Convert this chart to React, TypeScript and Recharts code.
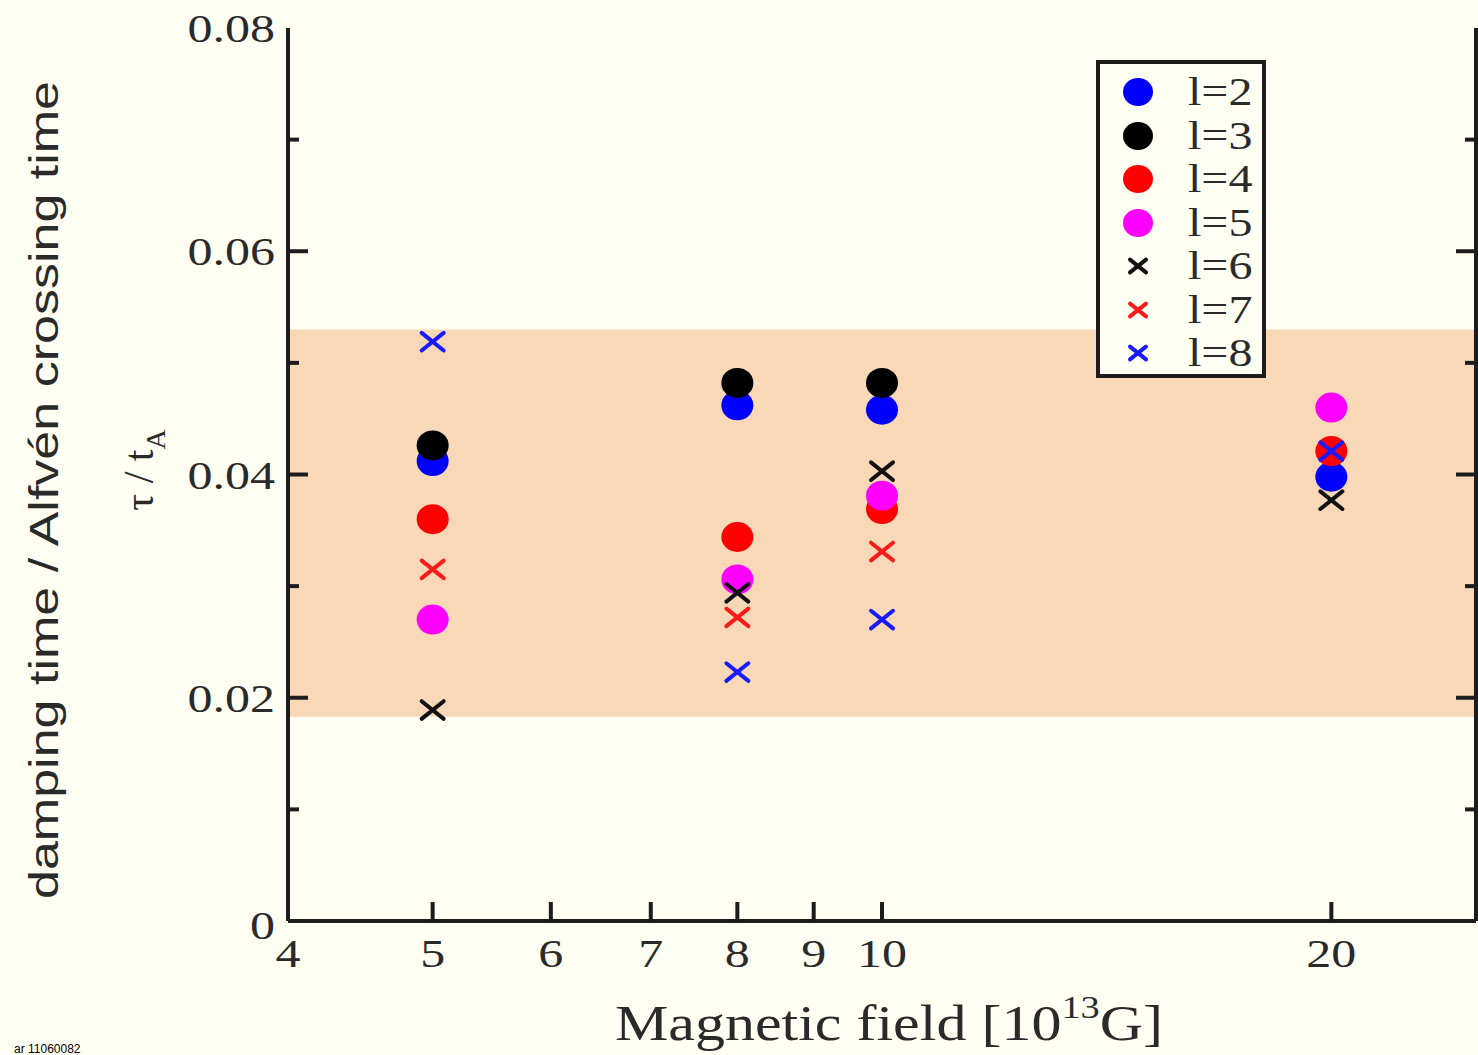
import React from 'react'
import { ComposedChart, Scatter, XAxis, YAxis, ReferenceArea, Legend, Label } from 'recharts'

// magnetic field [10^13 G]
const FIELDS = [5, 8, 10, 20]

// tau / t_A per multipole l (null = no point)
const L2 = [0.0412, 0.0462, 0.0458, 0.0398]
const L3 = [0.0426, 0.0482, 0.0482, null]
const L4 = [0.036, 0.0344, 0.0369, 0.0421]
const L5 = [0.027, 0.0306, 0.0381, 0.046]
const L6 = [0.0189, 0.0294, 0.0403, 0.0377]
const L7 = [0.0315, 0.0272, 0.0331, null]
const L8 = [0.0519, 0.0223, 0.027, 0.0421]

const X_TICKS = [4, 5, 6, 7, 8, 9, 10, 20]
const X_TOP_TICKS = [5, 6, 7, 8, 9, 10, 20]
const Y_TICKS = [0, 0.01, 0.02, 0.03, 0.04, 0.05, 0.06, 0.07, 0.08]
const BAND = [0.0183, 0.053]

const AXIS = '#1c1c1c'
const TEXT = '#2a2a2a'
const BG = '#fffff3'
const SERIF = '"Liberation Serif", "DejaVu Serif", serif'
const SANS = '"Liberation Sans", Arial, sans-serif'

const SERIES = [
  { name: 'l=2', values: L2, color: '#0000ff', kind: 'circle' },
  { name: 'l=3', values: L3, color: '#000000', kind: 'circle' },
  { name: 'l=4', values: L4, color: '#ff0000', kind: 'circle' },
  { name: 'l=5', values: L5, color: '#ff00ff', kind: 'circle' },
  { name: 'l=6', values: L6, color: '#111111', kind: 'cross' },
  { name: 'l=7', values: L7, color: '#ff1a1a', kind: 'cross' },
  { name: 'l=8', values: L8, color: '#1a1aff', kind: 'cross' },
]

const toPoints = (vals: (number | null)[]) =>
  FIELDS.map((x, i) => ({ x, y: vals[i] })).filter((p) => p.y !== null)

const isMajor = (v: number) => Math.round(v * 100) % 2 === 0

function LeftTick({ x, y, payload }: any) {
  const v = payload.value
  const major = isMajor(v)
  const label = v === 0 ? '0' : v.toFixed(2)
  const dy = v === 0 ? 18 : 14
  return (
    <g>
      {v !== 0 && v !== 0.08 && (
        <line x1={x} x2={x + (major ? 20 : 11)} y1={y} y2={y} stroke={AXIS} strokeWidth={4} />
      )}
      {major && (
        <text
          transform={`translate(${x - 13},${y + dy}) scale(1.25,1)`}
          textAnchor="end"
          fontFamily={SERIF}
          fontSize={40}
          fill={TEXT}
        >
          {label}
        </text>
      )}
    </g>
  )
}

function RightTick({ x, y, payload }: any) {
  const v = payload.value
  if (v === 0 || v === 0.08) return null
  return <line x1={x} x2={x - (isMajor(v) ? 20 : 11)} y1={y} y2={y} stroke={AXIS} strokeWidth={4} />
}

function BottomTick({ x, y, payload }: any) {
  const v = payload.value
  return (
    <g>
      {v !== 4 && <line x1={x} x2={x} y1={y} y2={y - 19} stroke={AXIS} strokeWidth={4} />}
      <text
        transform={`translate(${x},${y + 46}) scale(1.25,1)`}
        textAnchor="middle"
        fontFamily={SERIF}
        fontSize={40}
        fill={TEXT}
      >
        {v}
      </text>
    </g>
  )
}

function TopTick({ x, y }: any) {
  return <line x1={x} x2={x} y1={y} y2={y + 17} stroke={AXIS} strokeWidth={4} />
}

function Marker({ cx, cy, color, kind, r = 15, s = 11 }: any) {
  if (cx == null || cy == null) return null
  if (kind === 'circle') return <ellipse cx={cx} cy={cy} rx={r + 1} ry={r} fill={color} />
  return (
    <g stroke={color} strokeWidth={4} strokeLinecap="round">
      <line x1={cx - s} y1={cy - s * 0.8} x2={cx + s} y2={cy + s * 0.8} />
      <line x1={cx - s} y1={cy + s * 0.8} x2={cx + s} y2={cy - s * 0.8} />
    </g>
  )
}

function LegendBox() {
  return (
    <div
      style={{
        width: 162,
        height: 310,
        border: `4px solid ${AXIS}`,
        background: BG,
        boxSizing: 'content-box',
        position: 'relative',
      }}
    >
      {SERIES.map((s, i) => (
        <div key={s.name} style={{ position: 'absolute', left: 0, top: 6 + i * 43.5, height: 44, width: 162 }}>
          <svg width={80} height={44} style={{ position: 'absolute', left: 0, top: 0 }}>
            <Marker cx={38} cy={22} color={s.color} kind={s.kind} r={14} s={8} />
          </svg>
          <div
            style={{
              position: 'absolute',
              left: 88,
              top: 0,
              fontFamily: SERIF,
              fontSize: 40,
              lineHeight: '44px',
              color: TEXT,
              transform: 'scaleX(1.2)',
              transformOrigin: 'left center',
            }}
          >
            {s.name}
          </div>
        </div>
      ))}
    </div>
  )
}

function YTitles() {
  return (
    <g>
      <text
        transform="translate(58,490) rotate(-90)"
        textAnchor="middle"
        fontFamily={SANS}
        fontSize={41}
        fill={TEXT}
        textLength={818}
        lengthAdjust="spacingAndGlyphs"
      >
        damping time / Alfvén crossing time
      </text>
      <text transform="translate(153,470) rotate(-90)" textAnchor="middle" fontFamily={SERIF} fontSize={42} fill={TEXT}>
        τ / t
        <tspan fontSize={28} dy={12}>A</tspan>
      </text>
    </g>
  )
}

function XTitle() {
  return (
    <g>
      <text
        transform="translate(889,1040) scale(1.2,1)"
        textAnchor="middle"
        fontFamily={SERIF}
        fontSize={50}
        fill={TEXT}
      >
        Magnetic field [10
        <tspan fontSize={32} dy={-22}>13</tspan>
        <tspan dy={22}>G]</tspan>
      </text>
      <text x={14} y={1053} fontFamily={SANS} fontSize={12} fill="#000">
        ar 11060082
      </text>
    </g>
  )
}

export default function App() {
  return (
    <div style={{ position: 'absolute', left: 0, top: 0, width: 1478, height: 1055, background: BG, overflow: 'hidden' }}>
      <ComposedChart width={1478} height={1055} margin={{ top: 28, right: 0, bottom: 0, left: 0 }}>
        <XAxis
          xAxisId="b"
          type="number"
          dataKey="x"
          scale="log"
          domain={[4, 25]}
          allowDataOverflow
          ticks={X_TICKS}
          interval={0}
          height={134}
          tickSize={0}
          tickMargin={0}
          tickLine={false}
          tick={<BottomTick />}
          axisLine={{ stroke: AXIS, strokeWidth: 4 }}
        >
          <Label content={<XTitle />} />
        </XAxis>
        <XAxis
          xAxisId="t"
          orientation="top"
          type="number"
          dataKey="x"
          scale="log"
          domain={[4, 25]}
          allowDataOverflow
          ticks={X_TOP_TICKS}
          interval={0}
          height={0}
          tickSize={0}
          tickMargin={0}
          tickLine={false}
          tick={<TopTick />}
          axisLine={{ stroke: AXIS, strokeWidth: 4 }}
        />
        <YAxis
          yAxisId="l"
          type="number"
          dataKey="y"
          domain={[0, 0.08]}
          allowDataOverflow
          ticks={Y_TICKS}
          interval={0}
          width={288}
          tickSize={0}
          tickMargin={0}
          tickLine={false}
          tick={<LeftTick />}
          axisLine={{ stroke: AXIS, strokeWidth: 4 }}
        >
          <Label content={<YTitles />} />
        </YAxis>
        <YAxis
          yAxisId="r"
          orientation="right"
          type="number"
          domain={[0, 0.08]}
          allowDataOverflow
          ticks={Y_TICKS}
          interval={0}
          width={2}
          tickSize={0}
          tickMargin={0}
          tickLine={false}
          tick={<RightTick />}
          axisLine={{ stroke: AXIS, strokeWidth: 4 }}
        />
        <ReferenceArea
          xAxisId="b"
          yAxisId="l"
          x1={4}
          x2={25}
          y1={BAND[0]}
          y2={BAND[1]}
          fill="#f8d8b7"
          fillOpacity={1}
          stroke="none"
        />
        {SERIES.map((s) => (
          <Scatter
            key={s.name}
            name={s.name}
            xAxisId="b"
            yAxisId="l"
            data={toPoints(s.values)}
            isAnimationActive={false}
            shape={(p: any) => <Marker cx={p.cx} cy={p.cy} color={s.color} kind={s.kind} />}
          />
        ))}
        <Legend
          layout="vertical"
          align="center"
          verticalAlign="middle"
          wrapperStyle={{ left: 1096, top: 60, width: 170, height: 318 }}
          content={() => <LegendBox />}
        />
      </ComposedChart>
    </div>
  )
}
